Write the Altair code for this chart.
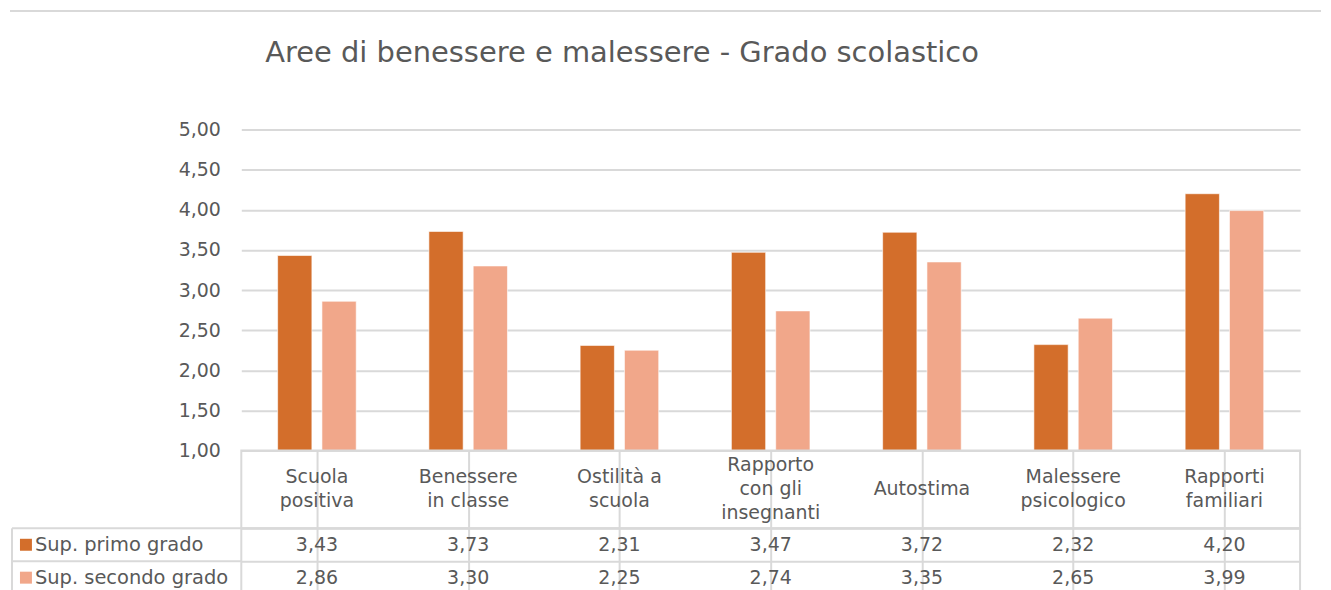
import altair as alt
import pandas as pd

FONT = "DejaVu Sans"
TXT = "#595959"
GRID = "#d9d9d9"

categories = ["Scuola positiva", "Benessere in classe", "Ostilità a scuola",
              "Rapporto con gli insegnanti", "Autostima", "Malessere psicologico",
              "Rapporti familiari"]
header_labels = ["Scuola\npositiva", "Benessere\nin classe", "Ostilità a\nscuola",
                 "Rapporto\ncon gli\ninsegnanti", "Autostima", "Malessere\npsicologico",
                 "Rapporti\nfamiliari"]
series = ["Sup. primo grado", "Sup. secondo grado"]
primo = [3.43, 3.73, 2.31, 3.47, 3.72, 2.32, 4.20]
secondo = [2.86, 3.30, 2.25, 2.74, 3.35, 2.65, 3.99]
colors = ["#D36E2B", "#F1A78A"]
y_ticks = [1.0, 1.5, 2.0, 2.5, 3.0, 3.5, 4.0, 4.5, 5.0]
title_text = "Aree di benessere e malessere - Grado scolastico"

rows = []
for s, vals in zip(series, [primo, secondo]):
    for c, v in zip(categories, vals):
        rows.append({"category": c, "series": s, "value": v,
                     "label": f"{v:.2f}".replace(".", ",")})
df = pd.DataFrame(rows)
hdr_df = pd.DataFrame({"category": categories, "label": header_labels,
                       "nlines": [lbl.count("\n") + 1 for lbl in header_labels]})
leg_df = pd.DataFrame({"series": series})
one = pd.DataFrame({"k": [0]})

W = 1062
xscale = alt.Scale(domain=categories, paddingInner=0, paddingOuter=0)
cscale = alt.Scale(domain=series, range=colors)
yser = alt.Scale(domain=series, paddingInner=0, paddingOuter=0)

grid_x_axis = alt.Axis(bandPosition=0, grid=True, gridColor=GRID, gridWidth=2,
                       labels=False, ticks=False, domain=False, title=None)
grid_y_axis = alt.Axis(bandPosition=0, grid=True, gridColor=GRID, gridWidth=2,
                       labels=False, ticks=False, domain=False, title=None)

# ---- bar chart ----
bars = alt.Chart(df).mark_bar(stroke="white", strokeWidth=1, strokeOpacity=0.6).encode(
    x=alt.X("category:N", scale=xscale, sort=categories, axis=None),
    xOffset=alt.XOffset("series:N", scale=alt.Scale(domain=series, paddingInner=0.227,
                                                      paddingOuter=0.82)),
    y=alt.Y("value:Q", scale=alt.Scale(domain=[1, 5], zero=False, nice=False),
            axis=alt.Axis(values=y_ticks,
                          labelExpr="replace(format(datum.value, '.2f'), '.', ',')",
                          title=None, domain=False, ticks=False, grid=True,
                          gridColor=GRID, gridWidth=2, labelFontSize=19,
                          labelColor=TXT, labelFont=FONT, labelPadding=21)),
    y2=alt.datum(1),
    color=alt.Color("series:N", scale=cscale, legend=None),
)
top_line = alt.Chart(one).mark_rule(color=GRID, strokeWidth=2).encode(
    x=alt.value(-232), x2=alt.value(1083), y=alt.value(-119))
title = alt.Chart(one).mark_text(text=title_text, font=FONT, fontSize=29, color=TXT,
                                 align="left", baseline="alphabetic").encode(
    x=alt.value(24), y=alt.value(-68))
bar_chart = alt.layer(bars, top_line, title).properties(width=W, height=322)

# ---- header row of the table ----
def header_layer(n):
    return alt.Chart(hdr_df).transform_filter(alt.datum.nlines == n).mark_text(
        lineBreak="\n", fontSize=19, font=FONT, color=TXT, lineHeight=24,
        baseline="middle", dy=-(n - 1) * 12).encode(
        x=alt.X("category:N", scale=xscale, sort=categories, axis=grid_x_axis),
        y=alt.value(39),
        text="label:N",
    )

header = alt.layer(header_layer(1), header_layer(2), header_layer(3)).properties(
    width=W, height=78, view=alt.ViewBackground(stroke=GRID, strokeWidth=2))

# ---- value rows ----
vals = alt.Chart(df).mark_text(fontSize=19, font=FONT, color=TXT).encode(
    x=alt.X("category:N", scale=xscale, sort=categories, axis=grid_x_axis),
    y=alt.Y("series:N", scale=yser, axis=grid_y_axis),
    text="label:N",
)
leg_text = alt.Chart(leg_df).mark_text(fontSize=19.5, font=FONT, color=TXT, align="left").encode(
    x=alt.value(-207),
    y=alt.Y("series:N", scale=yser, axis=grid_y_axis),
    text="series:N",
)
leg_sq = alt.Chart(leg_df).mark_square(size=144, opacity=1).encode(
    x=alt.value(-216),
    y=alt.Y("series:N", scale=yser, axis=grid_y_axis),
    color=alt.Color("series:N", scale=cscale, legend=None),
)
leg_hlines = alt.Chart(leg_df).mark_rule(color=GRID, strokeWidth=2).encode(
    x=alt.value(-230), x2=alt.value(0),
    y=alt.Y("series:N", scale=yser, axis=grid_y_axis, bandPosition=0),
)
leg_vline = alt.Chart(one).mark_rule(color=GRID, strokeWidth=2).encode(
    x=alt.value(-230), y=alt.value(0), y2=alt.value(66),
)
value_rows = alt.layer(vals, leg_text, leg_sq, leg_hlines, leg_vline).properties(
    width=W, height=66, view=alt.ViewBackground(stroke=GRID, strokeWidth=2))

chart = alt.vconcat(bar_chart, header, value_rows, spacing=0, bounds="flush").properties(
    padding={"left": 0, "top": 0, "right": 0, "bottom": 0},
).configure_view(stroke="transparent")

chart.save("out.html", embed_options={"renderer": "svg", "actions": False})
